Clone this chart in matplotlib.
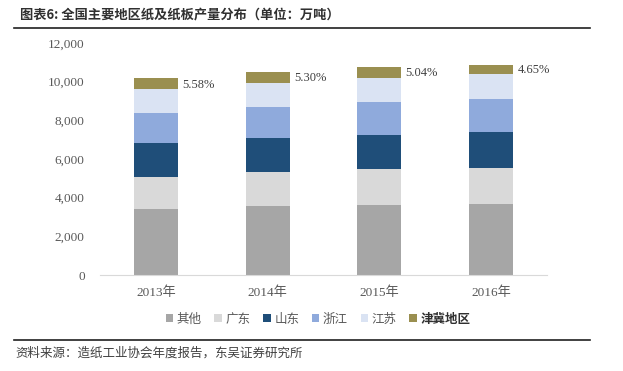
import matplotlib
matplotlib.use("Agg")
import matplotlib.pyplot as plt
import numpy as np

years = ["2013年", "2014年", "2015年", "2016年"]
series_names = ["其他", "广东", "山东", "浙江", "江苏", "津冀地区"]
other = [3430, 3570, 3640, 3690]
guangdong = [1660, 1740, 1830, 1830]
shandong = [1720, 1760, 1790, 1890]
zhejiang = [1550, 1600, 1670, 1680]
jiangsu = [1250, 1280, 1280, 1290]
jingji = [560, 556, 541, 506]
pct_labels = ["5.58%", "5.30%", "5.04%", "4.65%"]
yticks = [0, 2000, 4000, 6000, 8000, 10000, 12000]

colors = ["#A6A6A6", "#D9D9D9", "#1F4E79", "#8FAADC", "#DAE3F3", "#9A8F50"]

plt.rcParams['font.family'] = ['Liberation Serif', 'Noto Sans CJK SC']

fig = plt.figure(figsize=(6.23, 3.71), dpi=100)
ax = fig.add_axes([100/623, 1-275/371, 447/623, (275-43)/371])

x = np.arange(len(years))
data = [other, guangdong, shandong, zhejiang, jiangsu, jingji]
bottom = np.zeros(len(years))
for vals, name, c in zip(data, series_names, colors):
    ax.bar(x, vals, width=0.395, bottom=bottom, color=c, label=name, zorder=2)
    bottom += np.array(vals)

top = bottom
for i in range(len(years)):
    ax.annotate(pct_labels[i], xy=(x[i] + 0.1975, top[i] - jingji[i] * 0.6),
                xytext=(3, 0), textcoords="offset points", ha="left", va="center",
                fontsize=9, color="#404040")

ax.set_xlim(-0.5, 3.5)
ax.set_ylim(0, 12000)
ax.set_yticks(yticks)
ax.set_yticklabels([f"{v:,}" for v in yticks], fontsize=9.5, color="#595959")
ax.set_xticks(x)
ax.set_xticklabels(years, fontsize=9.5, color="#595959",
                   fontfamily=['Liberation Serif', 'Noto Sans CJK SC'])
ax.tick_params(axis='both', length=0)
ax.tick_params(axis='y', pad=11)
ax.tick_params(axis='x', pad=8)
for s in ["top", "right", "left"]:
    ax.spines[s].set_visible(False)
ax.spines["bottom"].set_color("#D9D9D9")

handles, labels = ax.get_legend_handles_labels()
leg = fig.legend(handles, labels, loc="center", bbox_to_anchor=(318/623, 1-319/371),
                 ncol=6, frameon=False, handlelength=0.6, handleheight=0.6,
                 handletextpad=0.3, columnspacing=1.0,
                 prop={'family': 'Noto Sans CJK SC', 'size': 9})
for t in leg.get_texts():
    t.set_color("#595959")
leg.get_texts()[-1].set_color("#303030")
leg.get_texts()[-1].set_fontweight("bold")

fig.text(20/623, 1-14/371, "图表6: 全国主要地区纸及纸板产量分布（单位：万吨）",
         fontsize=9.5, fontweight="bold", color="#303030", va="center",
         fontfamily=['Noto Sans CJK SC'])
fig.add_artist(plt.Line2D([14/623, 590/623], [1-28/371, 1-28/371], color="#202020", lw=1.2))
fig.add_artist(plt.Line2D([14/623, 590/623], [1-340/371, 1-340/371], color="#202020", lw=1.2))
fig.text(15/623, 1-353/371, "资料来源：造纸工业协会年度报告，东吴证券研究所",
         fontsize=9, color="#404040", va="center", fontfamily=['Noto Sans CJK SC'])

fig.savefig("out.png", dpi=100, facecolor="white")
